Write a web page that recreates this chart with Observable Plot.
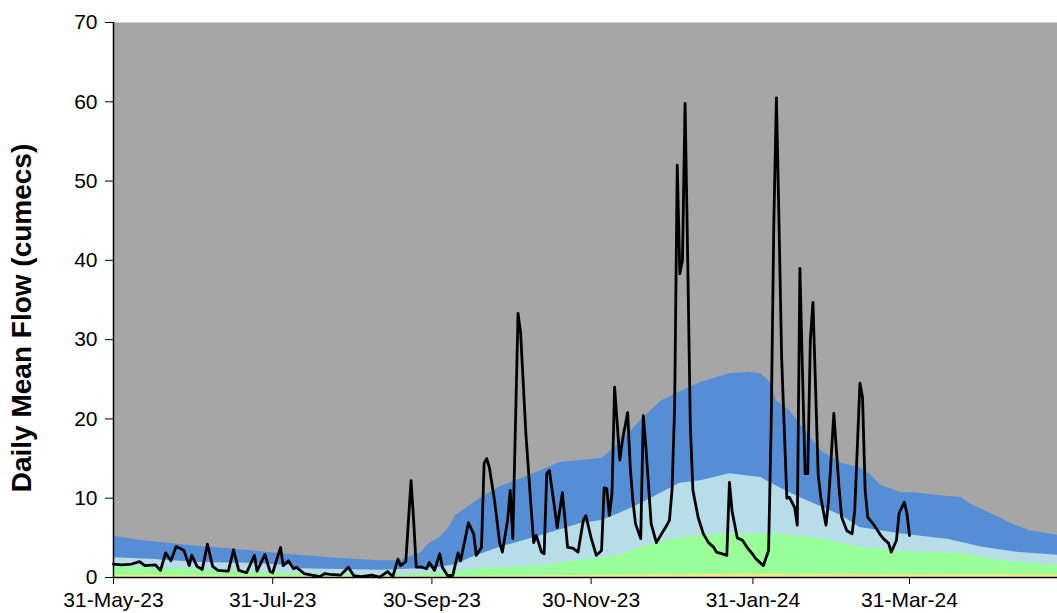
<!DOCTYPE html>
<html><head><meta charset="utf-8">
<script src="https://cdn.jsdelivr.net/npm/d3@7"></script>
<script src="https://cdn.jsdelivr.net/npm/@observablehq/plot@0.6"></script>
<style>body{margin:0;background:#fff}</style>
</head><body><div id="chart"></div>
<script>
const startDate = "2023-05-31";
const endDay = 361.7;
const yLabel = "Daily Mean Flow (cumecs)";
const xTickDates = ["2023-05-31","2023-07-31","2023-09-30","2023-11-30","2024-01-31","2024-03-31"];
const yTicks = [0,10,20,30,40,50,60,70];

// Daily mean flow (day offset from 31-May-23, cumecs)
const flowDays = [0,3,7,10,12,16,18,20,22,24,26,27,29,30,32,34,36,38,40,44,46,48,51,54,55,58,60,61,64,65,67,69,70,73,76,79,81,83,87,90,92,95,99,102,105,107,109,110,112,114,115,116,118,120,121,123,125,126,128,130,132,133,136,138,139,141,142,143,144,146,148,149,151,152,153,155,156,158,160,161,162,164,165,166,167,169,170,172,174,176,178,180,181,183,185,187,188,189,190,191,192,193,194,195,197,198,199,200,202,203,204,206,208,210,212,213,214,215,216,217,218,219,220,221,222,224,226,228,230,231,233,235,236,237,239,241,243,245,246,247,248,249,251,252,253,254,255,256,258,259,261,262,263,264,265,266,267,268,269,270,271,273,274,276,278,279,281,283,284,286,287,288,289,291,292,294,295,297,298,300,301,303,304,305];
const flowValues = [1.7,1.6,1.7,2.0,1.5,1.6,0.9,3.1,2.1,3.9,3.6,3.4,1.5,2.8,1.4,1.0,4.2,1.4,0.9,0.8,3.5,0.9,0.6,2.8,0.8,2.9,0.75,0.6,3.8,1.5,2.1,1.1,1.3,0.5,0.3,0.1,0.5,0.4,0.3,1.3,0.25,0.1,0.3,0.05,0.75,0.1,2.3,1.5,2.0,12.2,7.2,1.3,1.3,1.1,1.9,0.9,3.0,1.3,0.25,0.25,3.1,2.1,6.9,5.5,2.8,3.8,14.4,15.0,13.9,9.7,4.3,3.2,7.2,11.0,4.9,33.3,30.8,18.2,8.8,4.4,5.3,3.2,3.0,13.1,13.5,8.8,6.3,10.7,3.8,3.7,3.2,7.2,7.8,5.0,2.8,3.4,11.3,11.2,7.8,10.6,24.0,19.4,14.8,17.3,20.8,13.9,9.7,6.8,4.9,20.4,16.4,6.8,4.4,5.5,6.6,7.2,11.0,21.4,52.0,38.3,40.0,59.8,40.4,19.4,11.0,7.6,5.5,4.4,3.8,3.2,3.0,2.8,12.0,8.4,5.0,4.7,3.7,2.9,2.4,2.1,1.8,1.5,3.4,19.4,44.6,60.5,44.6,27.7,10.0,10.1,8.8,6.6,39.0,25.7,13.1,13.1,29.9,34.7,24.0,13.0,10.1,6.6,9.7,20.7,11.3,7.6,5.9,5.5,8.4,24.5,22.7,11.0,7.6,6.8,6.3,5.3,4.9,4.3,3.2,4.7,8.1,9.5,8.1,5.3];

// Historic flow bands (upper boundaries)
const highDays = [0,10,18,33,52,64,83,102,110,118,121,125,129,131,141,148,164,171,187,194,202,210,217,225,236,244,248,252,254,259,263,271,279,286,290,294,302,307,317,325,328,336,344,351,362];
const highValues = [5.2,4.7,4.4,3.9,3.4,3.0,2.5,2.1,2.1,3.2,4.3,5.0,6.5,7.8,10.1,11.4,13.5,14.5,15.0,16.9,19.8,22.3,23.4,24.6,25.7,25.9,25.7,24.5,22.3,21.1,19.4,16.0,14.4,13.8,13.0,11.6,10.7,10.7,10.3,10.1,9.3,8.1,6.8,5.9,5.3];
const midDays = [0,14,33,52,68,72,102,118,125,131,137,148,164,179,187,194,202,217,225,236,248,256,263,279,286,302,307,320,333,346,362];
const midValues = [2.5,2.3,1.9,1.8,1.5,1.1,0.9,1.1,1.3,1.6,2.5,3.8,5.3,6.8,7.2,8.1,9.3,11.9,12.2,13.1,12.6,11.2,10.1,7.8,6.3,5.5,5.3,4.8,3.8,3.2,2.8];
const lowDays = [0,33,68,102,125,141,164,187,194,202,217,233,248,256,271,286,302,325,341,362];
const lowValues = [1.4,1.0,0.5,0.25,0.5,1.1,1.5,2.5,2.8,3.8,5.0,5.5,5.5,5.5,4.9,3.8,3.3,3.0,2.1,1.5];
const minDays = [0,60,120,180,240,300,362];
const minValues = [0.25,0.15,0.1,0.25,0.4,0.35,0.3];

const start = new Date(startDate);
const toDate = d => new Date(start.getTime() + d * 864e5);
const table = (days, vals) => days.map((d, i) => ({date: toDate(d), value: vals[i]}));

const flow = table(flowDays, flowValues);
const high = table(highDays, highValues);
const mid = table(midDays, midValues);
const low = table(lowDays, lowValues);
const minB = table(minDays, minValues);

const chart = Plot.plot({
  width: 1057, height: 613,
  marginLeft: 113, marginRight: 0, marginTop: 22, marginBottom: 36,
  style: {fontFamily: '"Liberation Sans", Arial, sans-serif', fontSize: "21px", color: "#000", background: "#fff"},
  x: {type: "utc", domain: [start, toDate(endDay)]},
  y: {domain: [0, 70]},
  marks: [
    Plot.frame({fill: "#a6a6a6", stroke: "none"}),
    Plot.areaY(high, {x: "date", y: "value", fill: "#558ed5"}),
    Plot.areaY(mid, {x: "date", y: "value", fill: "#b7dde8"}),
    Plot.areaY(low, {x: "date", y: "value", fill: "#99ff99"}),
    Plot.areaY(minB, {x: "date", y: "value", fill: "#ffe680"}),
    Plot.lineY(flow, {x: "date", y: "value", stroke: "#000", strokeWidth: 2.8, strokeLinejoin: "round"}),
    Plot.ruleY([0], {stroke: "#000", strokeWidth: 1.5}),
    Plot.ruleX([start], {stroke: "#000", strokeWidth: 1.5}),
    Plot.axisX({ticks: xTickDates.map(d => new Date(d)), tickFormat: d3.utcFormat("%d-%b-%y"), tickSize: 7, tickPadding: 8, label: null}),
    Plot.axisY({ticks: yTicks, tickSize: 8, tickPadding: 8, label: null}),
    Plot.text([yLabel], {text: d => d, frameAnchor: "left", dx: -91, dy: 18, rotate: -90, fontSize: 28, fontWeight: "bold", textAnchor: "middle"})
  ]
});
document.getElementById("chart").appendChild(chart);
</script>
</body></html>
